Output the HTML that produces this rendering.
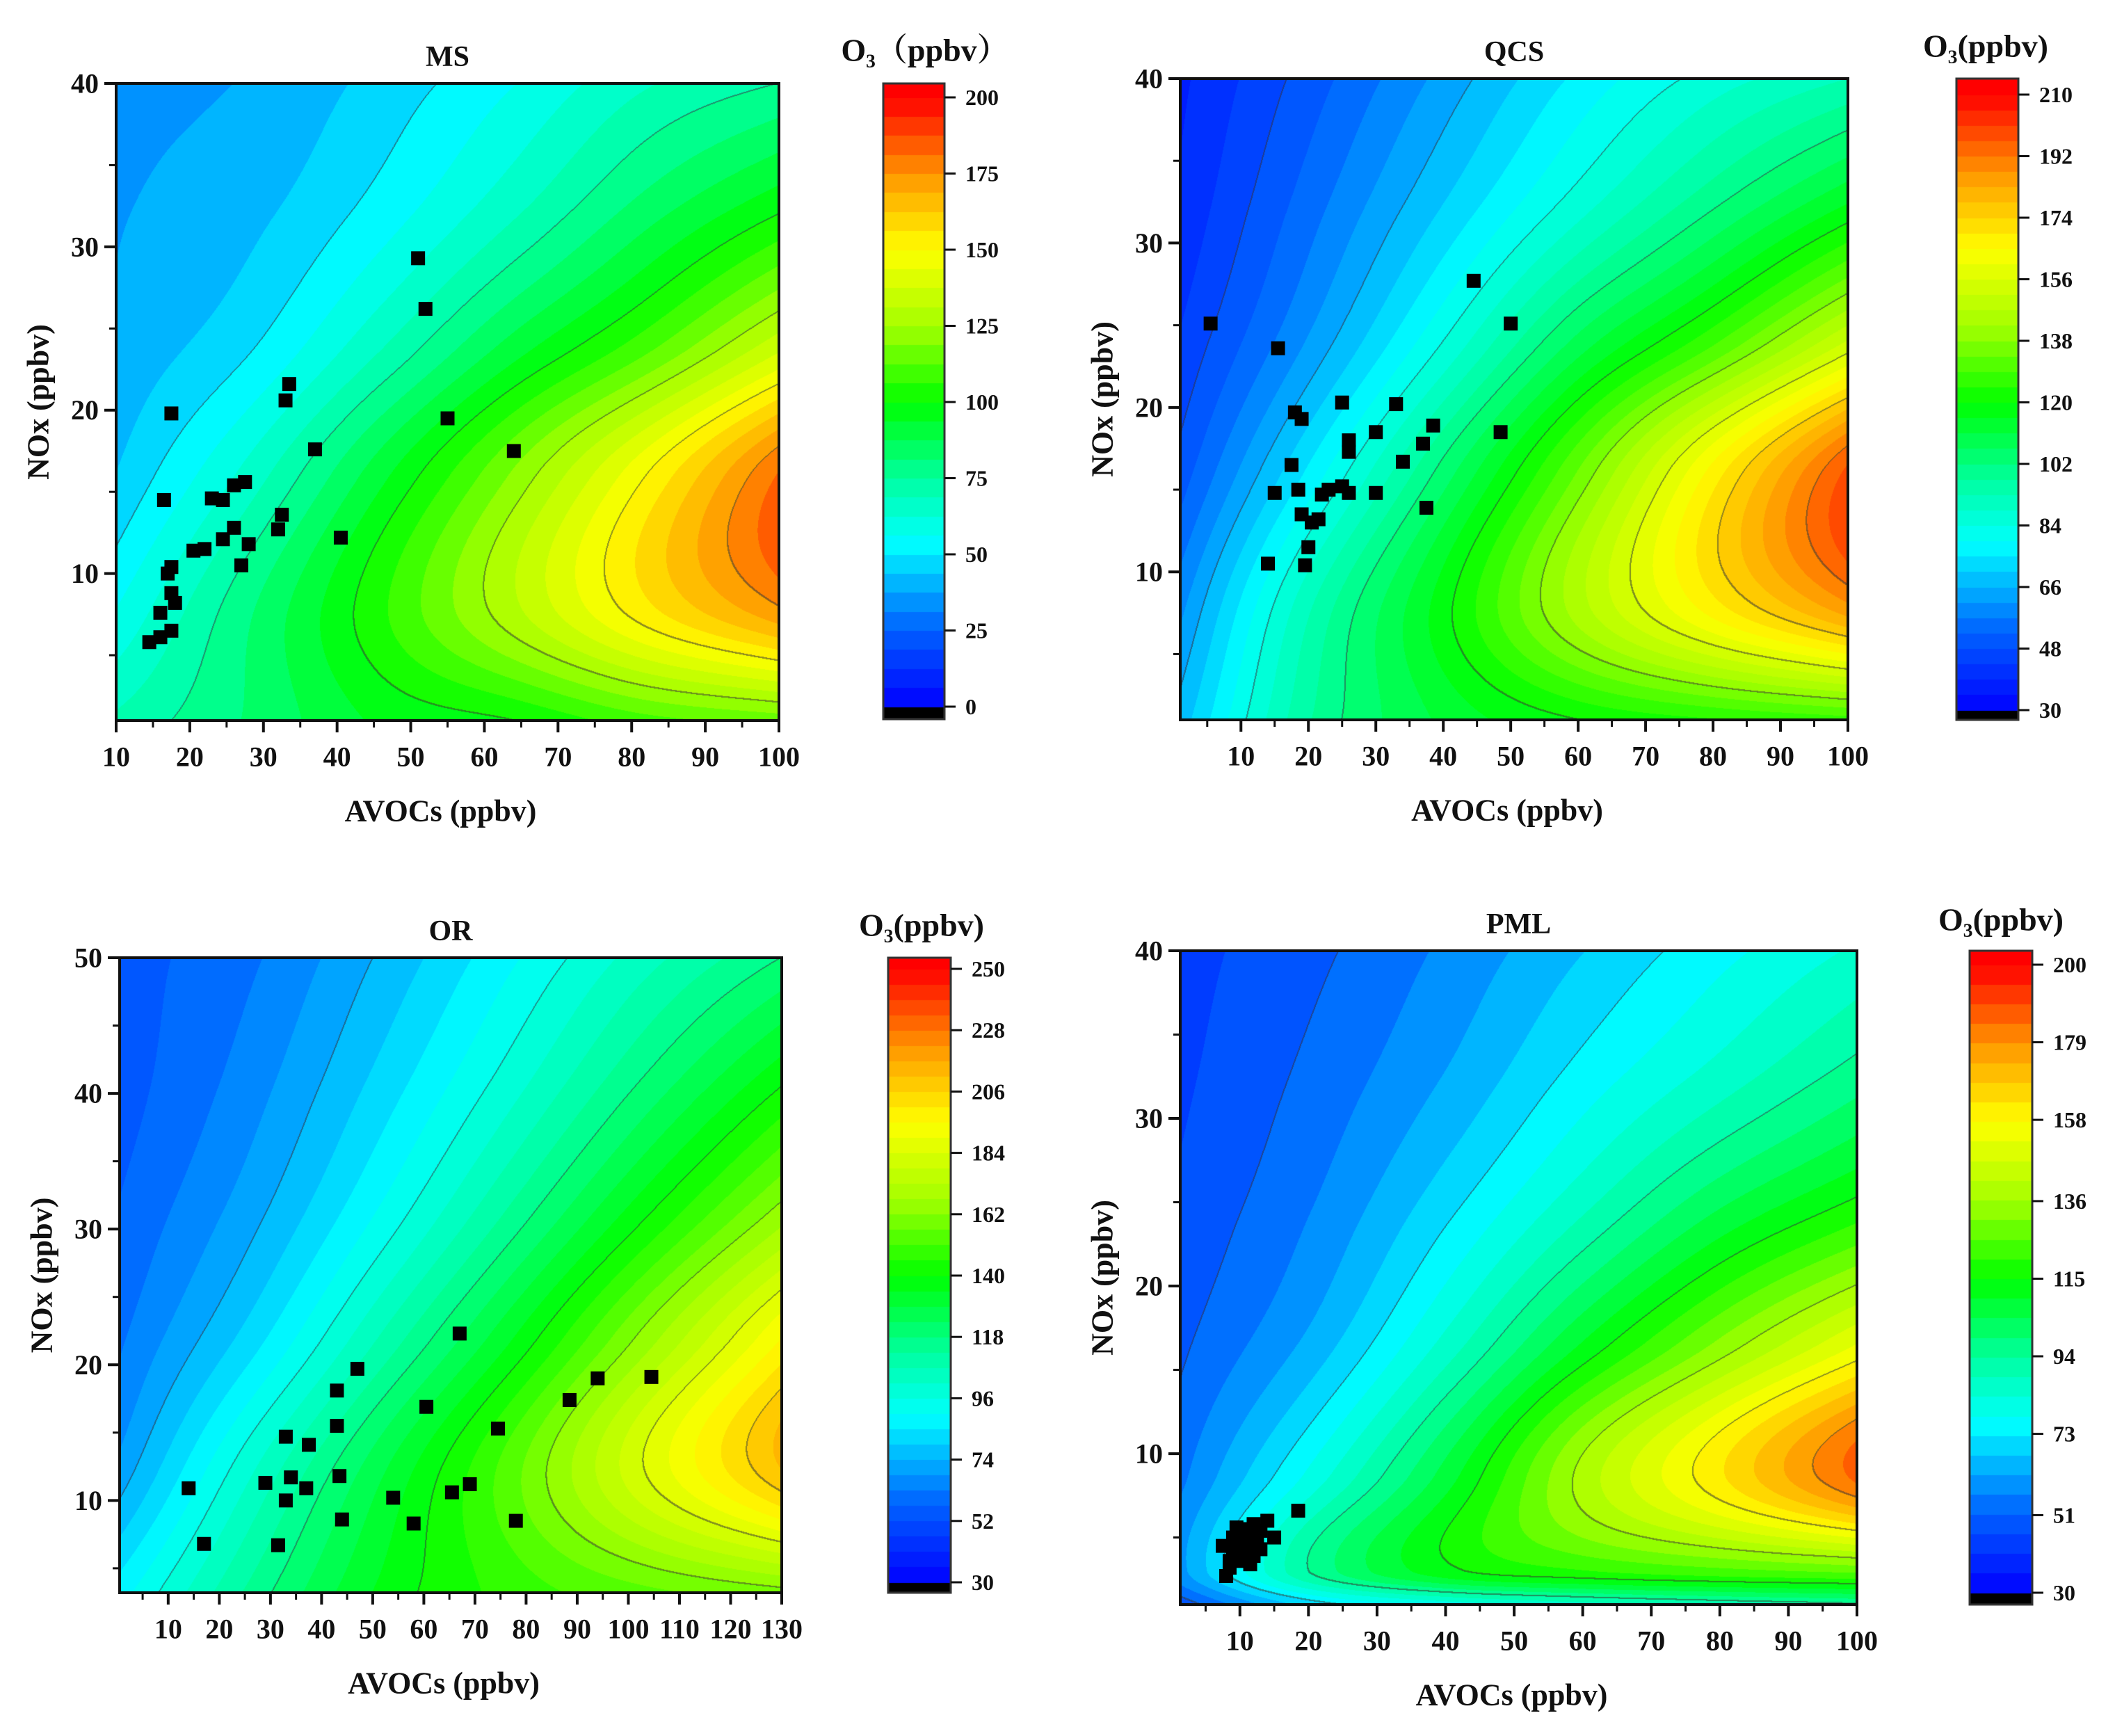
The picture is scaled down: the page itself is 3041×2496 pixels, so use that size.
<!DOCTYPE html>
<html><head><meta charset="utf-8">
<style>
html,body{margin:0;padding:0;background:#fff;}
#root{position:relative;width:3041px;height:2496px;overflow:hidden;background:#fff;}
canvas{position:absolute;}
svg{position:absolute;left:0;top:0;}
text{font-family:"Liberation Serif","Noto Serif CJK SC",serif;font-weight:bold;fill:#111;}
</style></head>
<body>
<div id="root">
<svg id="ov" width="3041" height="2496"></svg>
</div>
<script>
// ---- scatter data ----
const msVoc=[14.5,16,17.5,16,17.5,18,17,17.5,16.5,17.5,20.5,22,23,24.5,24.5,26,26,27.5,27,28,32,32.5,33,33.5,37,40.5,51,52,55,64];
const msNox=[5.8,6.1,6.5,7.6,8.8,8.2,10,10.4,14.5,19.8,11.4,11.5,14.6,14.5,12.1,12.8,15.4,15.6,10.5,11.8,12.7,13.6,20.6,21.6,17.6,12.2,29.3,26.2,19.5,17.5];
const qcsVoc=[5.5,15.5,14,15,17.5,18,18.5,19,19,19.5,20,20.5,21.5,22,23,25,25,26,26,26,30,30,33,34,37,37.5,38.5,44.5,48.5,50];
const qcsNox=[25.1,23.6,10.5,14.8,16.5,19.7,15,19.3,13.5,10.4,11.5,13,13.2,14.7,15,15.2,20.3,17.3,18,14.8,14.8,18.5,20.2,16.7,17.8,13.9,18.9,27.7,18.5,25.1];
const orVoc=[14,17,29,31.5,33,33,34,37,37.5,43,43,43.5,44,47,54,58,60.5,65.5,67,69,74.5,78,88.5,94,104.5];
const orNox=[10.9,6.8,11.3,6.7,14.7,10,11.7,10.9,14.1,18.1,15.5,11.8,8.6,19.7,10.2,8.3,16.9,10.6,22.3,11.2,15.3,8.5,17.4,19,19.1];
const pmlVoc=[7.5,8,8.5,9,9,9.5,10,10,10.5,11,11,11.5,12,12,12.5,13,13,14,15,18.5,8.5,9.5,10.5,11.5,12];
const pmlNox=[4.5,2.7,3.2,4,5,4.3,5.2,3.8,4.8,5.5,4,4.6,5.8,4.1,5,4.3,5.4,6,5,6.6,3.6,5.6,3.6,3.4,3.9];
// ---- colorbar ticks & axis ticks ----
const msTicks=[0,25,50,75,100,125,150,175,200];
const qcsTicks=[30,48,66,84,102,120,138,156,174,192,210];
const orTicks=[30,52,74,96,118,140,162,184,206,228,250];
const pmlTicks=[30,51,73,94,115,136,158,179,200];
const msXT=[10,20,30,40,50,60,70,80,90,100];
const qcsXT=[10,20,30,40,50,60,70,80,90,100];
const orXT=[10,20,30,40,50,60,70,80,90,100,110,120,130];
const pmlXT=[10,20,30,40,50,60,70,80,90,100];
const yT40=[10,20,30,40];
const yT50=[10,20,30,40,50];
// ---- O3 surface values (rows = NOx knots, cols = AVOC knots) ----
const msGX=[10,28,46,64,82,100];
const msGY=[1,8,16,24,32,40];
const msGV=[[70,82,95,100,110,115],[56,80,105,130,155,175],[44,65,92,120,150,182],[39,49,68,90,110,135],[37,42,53,68,85,100],[36,38,46,56,68,75]];
const qcsGX=[1,20,40,60,80,100];
const qcsGY=[1,8,16,24,32,40];
const qcsGV=[[68,97,112,120,124,127],[60,92,118,145,168,187],[50,76,104,134,167,198],[44,62,84,108,128,152],[40,55,71,87,102,117],[38,50,63,76,86,93]];
const orGX=[0.5,26,52,78,104,130];
const orGY=[3.2,12.5,22,31,40.5,50];
const orGV=[[88,114,136,148,155,160],[70,100,128,155,185,212],[62,82,108,135,165,195],[58,72,92,115,140,165],[55,66,82,100,120,140],[55,62,75,90,105,118]];
const pmlGX=[1.3,21,41,60,80,100];
const pmlGY=[1,3,8.8,16.6,24.4,32.2,40];
const pmlGV=[[48,70,80,86,90,93],[60,95,114,120,124,127],[55,80,108,138,162,186],[50,64,86,110,132,152],[47,57,72,88,105,118],[45,53,63,75,86,97],[44,50,58,67,76,84]];

const panels=[
 {id:'ms',title:'MS',L:167,R:1120,T:120,B:1036,xmin:10,xmax:100,ymin:1,ymax:40,xt:msXT,yt:yT40,vx:msVoc,vy:msNox,
  cbL:1270,cbR:1358,cbT:120,cbB:1034,ct:msTicks,cTop:140,cBot:1016,o3:'O\u2083\uFF08ppbv\uFF09',o3x:1330,o3y:72,
  gx:msGX,gy:msGY,gv:msGV,step:25},
 {id:'qcs',title:'QCS',L:1697,R:2657,T:113,B:1035,xmin:1,xmax:100,ymin:1,ymax:40,xt:qcsXT,yt:yT40,vx:qcsVoc,vy:qcsNox,
  cbL:2813,cbR:2902,cbT:113,cbB:1035,ct:qcsTicks,cTop:136,cBot:1021,o3:'O\u2083(ppbv)',o3x:2855,o3y:66,
  gx:qcsGX,gy:qcsGY,gv:qcsGV,step:18},
 {id:'or',title:'OR',L:172,R:1124,T:1377,B:2290,xmin:0.5,xmax:130,ymin:3.2,ymax:50,xt:orXT,yt:yT50,vx:orVoc,vy:orNox,
  cbL:1277,cbR:1367,cbT:1377,cbB:2290,ct:orTicks,cTop:1393,cBot:2275,o3:'O\u2083(ppbv)',o3x:1325,o3y:1330,
  gx:orGX,gy:orGY,gv:orGV,step:22},
 {id:'pml',title:'PML',L:1697,R:2670,T:1367,B:2307,xmin:1.3,xmax:100,ymin:1,ymax:40,xt:pmlXT,yt:yT40,vx:pmlVoc,vy:pmlNox,
  cbL:2832,cbR:2922,cbT:1367,cbB:2307,ct:pmlTicks,cTop:1387,cBot:2290,o3:'O\u2083(ppbv)',o3x:2877,o3y:1322,
  gx:pmlGX,gy:pmlGY,gv:pmlGV,step:21.25}
];

const stops=[[0,0,0,255],[0.13,0,100,255],[0.27,0,255,255],[0.38,0,255,154],[0.5,0,255,0],[0.62,160,255,0],[0.75,255,255,0],[0.87,255,153,0],[1,255,0,0]];
function cmap(t){t=Math.max(0,Math.min(1,t));for(let i=1;i<stops.length;i++){if(t<=stops[i][0]){const a=stops[i-1],b=stops[i];const k=(t-a[0])/(b[0]-a[0]);return [a[1]+(b[1]-a[1])*k,a[2]+(b[2]-a[2])*k,a[3]+(b[3]-a[3])*k];}}return [255,0,0];}
function interp(xs,ys,x){const n=xs.length;if(x<=xs[0])return ys[0];if(x>=xs[n-1])return ys[n-1];
 let i=0;while(x>xs[i+1])i++;
 const h=xs[i+1]-xs[i],t=(x-xs[i])/h;
 const tan=k=>{if(k===0)return (ys[1]-ys[0])/(xs[1]-xs[0]);if(k===n-1)return (ys[n-1]-ys[n-2])/(xs[n-1]-xs[n-2]);return (ys[k+1]-ys[k-1])/(xs[k+1]-xs[k-1]);};
 const m0=tan(i)*h,m1=tan(i+1)*h;const t2=t*t,t3=t2*t;
 return (2*t3-3*t2+1)*ys[i]+(t3-2*t2+t)*m0+(-2*t3+3*t2)*ys[i+1]+(t3-t2)*m1;}

const NS='http://www.w3.org/2000/svg';
const svg=document.getElementById('ov');
function mk(tag,attrs,parent){const e=document.createElementNS(NS,tag);for(const k in attrs)e.setAttribute(k,attrs[k]);(parent||svg).appendChild(e);return e;}
function txt(s,x,y,size,anchor,parent){const t=mk('text',{x:x,y:y,'font-size':size,'text-anchor':anchor||'middle','dominant-baseline':'central'},parent);t.textContent=s;return t;}

panels.forEach(P=>{
 const W=P.R-P.L,Hh=P.B-P.T;
 const cmin=P.ct[0],cmax=P.ct[P.ct.length-1];
 const sx=v=>P.L+(v-P.xmin)/(P.xmax-P.xmin)*W;
 const sy=v=>P.B-(v-P.ymin)/(P.ymax-P.ymin)*Hh;
 const cv=document.createElement('canvas');cv.width=W;cv.height=Hh;cv.style.left=P.L+'px';cv.style.top=P.T+'px';
 
 
 document.getElementById('root').insertBefore(cv,svg);
 const ctx=cv.getContext('2d');const img=ctx.createImageData(W,Hh);
 const band=P.step/4;const lev=new Int16Array(W*Hh);const vals=new Float32Array(W*Hh);
 const nc=P.gx.length;
 for(let j=0;j<Hh;j++){const y=P.ymax-(j+0.5)/Hh*(P.ymax-P.ymin);
  const col=[];for(let c=0;c<nc;c++){col.push(interp(P.gy,P.gv.map(r=>r[c]),y));}
  for(let i=0;i<W;i++){const x=P.xmin+(i+0.5)/W*(P.xmax-P.xmin);const v=interp(P.gx,col,x);vals[j*W+i]=v;lev[j*W+i]=Math.floor((v-cmin)/P.step);}}
 for(let j=0;j<Hh;j++)for(let i=0;i<W;i++){const k=j*W+i;const v=vals[k];
  const q=(Math.floor((v-cmin)/band)+0.5)*band+cmin;let c=cmap((q-cmin)/(cmax-cmin));
  const l=lev[k];let line=false;
  if(i+2<W&&lev[k+2]!==l)line=true;if(j+2<Hh&&lev[k+2*W]!==l)line=true;
  if(line)c=[c[0]*0.45+30,c[1]*0.45+30,c[2]*0.45+30];
  img.data[4*k]=c[0];img.data[4*k+1]=c[1];img.data[4*k+2]=c[2];img.data[4*k+3]=255;}
 ctx.putImageData(img,0,0);
 const g=mk('g',{});
 
 
 const fr=mk('rect',{x:P.L,y:P.T,width:W,height:Hh,fill:'none',stroke:'#111','stroke-width':4},g);
 
 
 const xa=mk('g',{},g);
 
 
 P.xt.forEach(v=>{const x=sx(v);mk('line',{x1:x,x2:x,y1:P.B,y2:P.B+17,stroke:'#111','stroke-width':4},xa);
  const t=txt(String(v),x,P.B+52,40,'middle',xa);
  const m=v+5;if(m<P.xmax){mk('line',{x1:sx(m),x2:sx(m),y1:P.B,y2:P.B+10,stroke:'#111','stroke-width':3},xa);}
  const m2=v-5;if(m2>P.xmin&&v===P.xt[0]){mk('line',{x1:sx(m2),x2:sx(m2),y1:P.B,y2:P.B+10,stroke:'#111','stroke-width':3},xa);}
 });
 const ya=mk('g',{},g);
 
 
 P.yt.forEach(v=>{const y=sy(v);mk('line',{x1:P.L-17,x2:P.L,y1:y,y2:y,stroke:'#111','stroke-width':4},ya);
  const t=txt(String(v),P.L-25,y,40,'end',ya);
  const m=v-5;if(m>P.ymin)mk('line',{x1:P.L-10,x2:P.L,y1:sy(m),y2:sy(m),stroke:'#111','stroke-width':3},ya);});
 const tt=txt(P.title,(P.L+P.R)/2,P.T-38,42,'middle',g);
 
 
 const xt=txt('AVOCs (ppbv)',(P.L+P.R)/2-10,P.B+130,44,'middle',g);
 
 
 const cy=(P.T+P.B)/2;const ycx=P.L-112;
 const yt=mk('text',{x:ycx,y:cy,'font-size':44,'text-anchor':'middle','dominant-baseline':'central',transform:'rotate(-90 '+ycx+' '+cy+')'},g);
 yt.textContent='NOx (ppbv)';
 
 
 const pg=mk('g',{},g);
 
 
 P.vx.forEach((vx,i)=>{const r=mk('rect',{x:sx(vx)-10,y:sy(P.vy[i])-10,width:20,height:20,fill:'#000'},pg);
  
  });
 const cb=document.createElement('canvas');const cw=P.cbR-P.cbL,ch=P.cbB-P.cbT;cb.width=cw;cb.height=ch;
 cb.style.left=P.cbL+'px';cb.style.top=P.cbT+'px';
 
 
 document.getElementById('root').insertBefore(cb,svg);
 const c2=cb.getContext('2d');
 for(let j=0;j<ch;j++){const y=P.cbT+j;let col;
  if(y>P.cBot)col=[0,0,0];else{const v=cmin+(P.cBot-y)/(P.cBot-P.cTop)*(cmax-cmin);const q=(Math.floor((v-cmin)/band)+0.5)*band+cmin;col=cmap((q-cmin)/(cmax-cmin));}
  c2.fillStyle='rgb('+col.map(Math.round).join(',')+')';c2.fillRect(0,j,cw,1);}
 const cbf=mk('rect',{x:P.cbL,y:P.cbT,width:cw,height:ch,fill:'none',stroke:'#333','stroke-width':3},g);
 
 
 P.ct.forEach(v=>{const y=P.cBot-(v-cmin)/(cmax-cmin)*(P.cBot-P.cTop);
  mk('line',{x1:P.cbR,x2:P.cbR+16,y1:y,y2:y,stroke:'#111','stroke-width':3},g);
  const t=txt(String(v),P.cbR+30,y,32,'start',g);});
 const ot=txt(P.o3,P.o3x,P.o3y,46,'middle',g);
 
 
});
</script>
</body></html>
